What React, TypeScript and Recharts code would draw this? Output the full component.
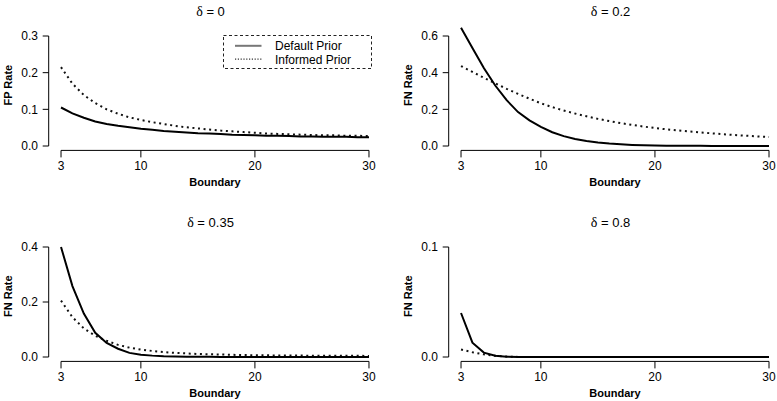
import React from "react";
import { LineChart, Line, XAxis, YAxis, ReferenceLine, Legend } from "recharts";

// boundary values on the x axis
const boundary = [3, 4, 5, 6, 7, 8, 9, 10, 11, 12, 13, 14, 15, 16, 17, 18, 19, 20, 21, 22, 23, 24, 25, 26, 27, 28, 29, 30];
const xTicks = [3, 10, 20, 30];
const seriesNames = ["Default Prior", "Informed Prior"];

// delta = 0 (false positive rate)
const fpDefault = [0.105, 0.089, 0.077, 0.067, 0.06, 0.055, 0.051, 0.047, 0.044, 0.041, 0.039, 0.037, 0.035, 0.034, 0.033, 0.031, 0.03, 0.029, 0.028, 0.028, 0.027, 0.026, 0.026, 0.025, 0.025, 0.025, 0.024, 0.024];
const fpInformed = [0.215, 0.17, 0.139, 0.117, 0.1, 0.088, 0.078, 0.071, 0.065, 0.06, 0.055, 0.051, 0.048, 0.045, 0.042, 0.04, 0.038, 0.036, 0.034, 0.033, 0.032, 0.031, 0.03, 0.029, 0.029, 0.028, 0.028, 0.027];

// delta = 0.2
const fn02Default = [0.645, 0.535, 0.425, 0.33, 0.25, 0.185, 0.14, 0.104, 0.075, 0.054, 0.038, 0.027, 0.019, 0.013, 0.009, 0.006, 0.004, 0.003, 0.002, 0.0015, 0.001, 0.0007, 0.0005, 0.0003, 0.0002, 0.0001, 0.0001, 0];
const fn02Informed = [0.436, 0.404, 0.372, 0.342, 0.312, 0.284, 0.258, 0.233, 0.212, 0.194, 0.177, 0.162, 0.148, 0.136, 0.125, 0.115, 0.106, 0.098, 0.091, 0.085, 0.079, 0.074, 0.069, 0.064, 0.06, 0.056, 0.052, 0.049];

// delta = 0.35
const fn035Default = [0.4, 0.258, 0.158, 0.088, 0.051, 0.03, 0.015, 0.008, 0.005, 0.003, 0.002, 0.001, 0.0007, 0.0005, 0.0003, 0.0002, 0.0001, 0.0001, 0, 0, 0, 0, 0, 0, 0, 0, 0, 0];
const fn035Informed = [0.205, 0.145, 0.104, 0.077, 0.059, 0.044, 0.034, 0.027, 0.022, 0.018, 0.015, 0.013, 0.011, 0.01, 0.009, 0.008, 0.007, 0.0065, 0.006, 0.0057, 0.0054, 0.0051, 0.0049, 0.0047, 0.0045, 0.0043, 0.0042, 0.004];

// delta = 0.8
const fn08Default = [0.04, 0.013, 0.004, 0.0012, 0.0003, 0.0001, 0, 0, 0, 0, 0, 0, 0, 0, 0, 0, 0, 0, 0, 0, 0, 0, 0, 0, 0, 0, 0, 0];
const fn08Informed = [0.0068, 0.0043, 0.0024, 0.0011, 0.0004, 0.0001, 0, 0, 0, 0, 0, 0, 0, 0, 0, 0, 0, 0, 0, 0, 0, 0, 0, 0, 0, 0, 0, 0];

const yTicksFP = [0, 0.1, 0.2, 0.3];
const yTicks02 = [0, 0.2, 0.4, 0.6];
const yTicks035 = [0, 0.2, 0.4];
const yTicks08 = [0, 0.1];

const FONT = "'Liberation Sans', Arial, Helvetica, sans-serif";
const DOT = "2 3.6";

// layout, in px inside one panel
const CHART_H = 190;
const PLOT_TOP = 20;
const PLOT_BOTTOM = 150.4;
const ZERO_Y = 146;
const TOP_TICK_Y = 36;
const AXIS_W = 48.7;
const X_MIN = 1.92;

const LegendBox = (props: any) => {
  const payload = props.payload || [];
  const entries = seriesNames.map((n) => payload.find((e: any) => e.value === n) || { value: n });
  return (
    <svg width={149} height={34} style={{ display: "block" }}>
      <rect x={0.5} y={0.5} width={148} height={33} fill="#fff" stroke="#222" strokeDasharray="3 2.5" />
      {entries.map((entry: any, i: number) => {
        const y = i === 0 ? 10.8 : 24.2;
        return (
          <g key={entry.value}>
            <line
              x1={12}
              x2={38.5}
              y1={y}
              y2={y}
              stroke={i === 0 ? "#777" : "#333"}
              strokeWidth={i === 0 ? 2 : 1.2}
              strokeDasharray={i === 1 ? "1.2 1.6" : undefined}
            />
            <text x={52} y={i === 0 ? 15 : 28.5} fontFamily={FONT} fontSize={12} fill="#000">
              {entry.value}
            </text>
          </g>
        );
      })}
    </svg>
  );
};

type PanelProps = {
  delta: string;
  yLabel: string;
  def: number[];
  inf: number[];
  yTicks: number[];
  left: number;
  top: number;
  width: number;
  marginRight: number;
  xMax: number;
  legend?: boolean;
};

const Panel = (p: PanelProps) => {
  const data = boundary.map((b, i) => ({ b, def: p.def[i], inf: p.inf[i] }));
  const topTick = p.yTicks[p.yTicks.length - 1];
  const k = (ZERO_Y - TOP_TICK_Y) / topTick;
  const yMin = -(PLOT_BOTTOM - ZERO_Y) / k;
  const yMax = (ZERO_Y - PLOT_TOP) / k;

  return (
    <div style={{ position: "absolute", left: p.left, top: p.top, width: p.width, height: CHART_H }}>
      <LineChart
        width={p.width}
        height={CHART_H}
        data={data}
        margin={{ top: PLOT_TOP, right: p.marginRight, bottom: 0, left: 0 }}
      >
        <XAxis
          dataKey="b"
          type="number"
          domain={[X_MIN, p.xMax]}
          allowDataOverflow
          ticks={xTicks}
          interval={0}
          axisLine={false}
          tickSize={7}
          tickMargin={4}
          tickLine={{ stroke: "#000" }}
          tick={{ fill: "#000", fontSize: 12, fontFamily: FONT }}
          height={CHART_H - PLOT_BOTTOM}
          label={{
            content: (lp: any) => {
              const vb = lp.viewBox || { x: AXIS_W, y: PLOT_BOTTOM };
              return (
                <text x={vb.x + 166.3} y={vb.y + 35.6} textAnchor="middle" fontFamily={FONT} fontSize={11} fontWeight="bold" fill="#000">
                  Boundary
                </text>
              );
            },
          }}
        />
        <YAxis
          type="number"
          domain={[yMin, yMax]}
          allowDataOverflow
          ticks={p.yTicks}
          interval={0}
          axisLine={false}
          width={AXIS_W}
          tickSize={6}
          tickMargin={4.7}
          tickLine={{ stroke: "#000" }}
          tick={{ fill: "#000", fontSize: 12, fontFamily: FONT }}
          tickFormatter={(v: number) => v.toFixed(1)}
          label={{
            content: (lp: any) => {
              const vb = lp.viewBox || { x: 0, y: PLOT_TOP, height: PLOT_BOTTOM - PLOT_TOP };
              const cx = vb.x + 11.7;
              const cy = vb.y + vb.height / 2;
              return (
                <text x={cx} y={cy} transform={`rotate(-90 ${cx} ${cy})`} textAnchor="middle" fontFamily={FONT} fontSize={11} fontWeight="bold" fill="#000">
                  {p.yLabel}
                </text>
              );
            },
          }}
        />
        <ReferenceLine segment={[{ x: X_MIN, y: 0 }, { x: X_MIN, y: topTick }]} stroke="#000" strokeWidth={1} ifOverflow="visible" />
        <ReferenceLine segment={[{ x: 3, y: yMin }, { x: 30, y: yMin }]} stroke="#000" strokeWidth={1} ifOverflow="visible" />
        <Line
          dataKey="inf"
          name={seriesNames[1]}
          type="linear"
          stroke="#111"
          strokeWidth={2}
          strokeDasharray={DOT}
          dot={false}
          isAnimationActive={false}
        />
        <Line
          dataKey="def"
          name={seriesNames[0]}
          type="linear"
          stroke="#000"
          strokeWidth={2}
          dot={false}
          isAnimationActive={false}
        />
        {p.legend && (
          <Legend
            layout="horizontal"
            verticalAlign="middle"
            align="center"
            content={(lp: any) => <LegendBox payload={lp.payload} />}
            wrapperStyle={{ left: 223, top: 35, width: 149, height: 34 }}
          />
        )}
      </LineChart>
      <div
        style={{
          position: "absolute",
          left: 150.5,
          top: 4.5,
          width: 120,
          textAlign: "center",
          fontFamily: FONT,
          fontSize: 13,
          lineHeight: "13px",
          color: "#000",
          pointerEvents: "none",
        }}
      >
        <span style={{ fontFamily: "'Liberation Serif', serif", fontSize: 14 }}>δ</span> = {p.delta}
      </div>
    </div>
  );
};

export default function App() {
  return (
    <div style={{ position: "absolute", left: 0, top: 0, width: 777, height: 401, background: "#fff", overflow: "hidden" }}>
      <Panel delta="0" yLabel="FP Rate" def={fpDefault} inf={fpInformed} yTicks={yTicksFP} left={0} top={0} width={388} marginRight={6.7} xMax={31.08} legend />
      <Panel delta="0.2" yLabel="FN Rate" def={fn02Default} inf={fn02Informed} yTicks={yTicks02} left={400} top={0} width={377} marginRight={0} xMax={30.7} />
      <Panel delta="0.35" yLabel="FN Rate" def={fn035Default} inf={fn035Informed} yTicks={yTicks035} left={0} top={211} width={388} marginRight={6.7} xMax={31.08} />
      <Panel delta="0.8" yLabel="FN Rate" def={fn08Default} inf={fn08Informed} yTicks={yTicks08} left={400} top={211} width={377} marginRight={0} xMax={30.7} />
    </div>
  );
}
